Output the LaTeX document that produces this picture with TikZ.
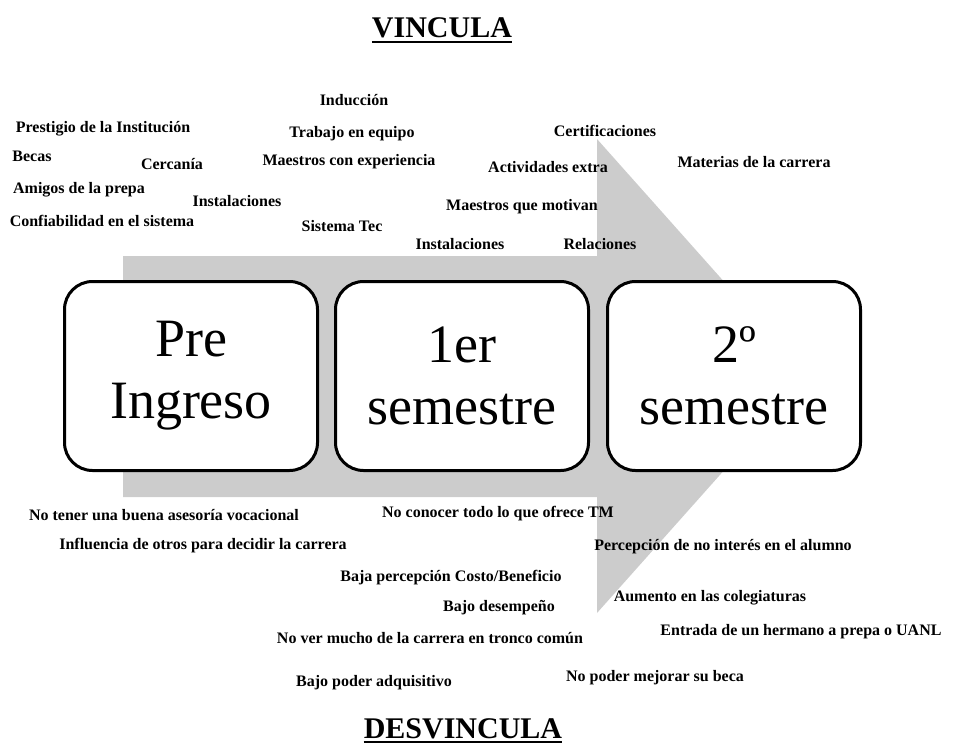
\documentclass[tikz,border=0pt]{standalone}
\usepackage{fontspec}
\setmainfont{Liberation Serif}
\begin{document}
\begin{tikzpicture}[x=1pt, y=-1pt,
  etapa/.style={draw, line width=3pt, fill=white, rounded corners=28pt,
    minimum width=253pt, minimum height=189pt, align=center,
    font=\fontsize{54}{62}\selectfont},
  factor/.style={font=\fontsize{16}{19}\selectfont\bfseries, inner sep=1pt},
  titulo/.style={font=\fontsize{30}{36}\selectfont\bfseries, inner sep=0pt, anchor=base}]
  \useasboundingbox (0,0) rectangle (956,744);

  % flecha gris de fondo
  \fill[black!20] (123,256) -- (597,256) -- (597,139) -- (808,376) -- (597,613)
    -- (597,497) -- (123,497) -- cycle;

  % etapas
  \node[etapa] (pre) at (191,376) {Pre\\Ingreso};
  \node[etapa] (sem1) at (462,376) {1er\\semestre};
  \node[etapa] (sem2) at (734,376) {2º\\semestre};

  % lo que vincula
  \node[factor] (v1) at (354,100) {Inducción};
  \node[factor] (v2) at (103,129) {Prestigio de la Institución};
  \node[factor] (v3) at (352,134) {Trabajo en equipo};
  \node[factor] (v4) at (32,156) {Becas};
  \node[factor] (v5) at (172,164) {Cercanía};
  \node[factor] (v6) at (349,162) {Maestros con experiencia};
  \node[factor] (v7) at (79,190) {Amigos de la prepa};
  \node[factor] (v8) at (237,201) {Instalaciones};
  \node[factor] (v9) at (102,221) {Confiabilidad en el sistema};
  \node[factor] (v10) at (342,226) {Sistema Tec};
  \node[factor] (v11) at (605,131) {Certificaciones};
  \node[factor] (v12) at (548,167) {Actividades extra};
  \node[factor] (v13) at (754,162) {Materias de la carrera};
  \node[factor] (v14) at (522,207) {Maestros que motivan};
  \node[factor] (v15) at (460,244) {Instalaciones};
  \node[factor] (v16) at (600,244) {Relaciones};

  % lo que desvincula
  \node[factor] (d1) at (164,515) {No tener una buena asesoría vocacional};
  \node[factor] (d2) at (498,514) {No conocer todo lo que ofrece TM};
  \node[factor] (d3) at (203,546) {Influencia de otros para decidir la carrera};
  \node[factor] (d4) at (723,547) {Percepción de no interés en el alumno};
  \node[factor] (d5) at (451,578) {Baja percepción Costo/Beneficio};
  \node[factor] (d6) at (499,608) {Bajo desempeño};
  \node[factor] (d7) at (710,598) {Aumento en las colegiaturas};
  \node[factor] (d8) at (430,638) {No ver mucho de la carrera en tronco común};
  \node[factor] (d9) at (801,632) {Entrada de un hermano a prepa o UANL};
  \node[factor] (d10) at (374,683) {Bajo poder adquisitivo};
  \node[factor] (d11) at (655,678) {No poder mejorar su beca};

  % titulos
  \node[titulo] (vincula) at (442,37) {VINCULA};
  \draw[line width=2.5pt] ([yshift=-5pt]vincula.base west) -- ([yshift=-5pt]vincula.base east);
  \node[titulo] (desvincula) at (463,738) {DESVINCULA};
  \draw[line width=2.5pt] ([yshift=-4pt]desvincula.base west) -- ([yshift=-4pt]desvincula.base east);
\end{tikzpicture}
\end{document}
